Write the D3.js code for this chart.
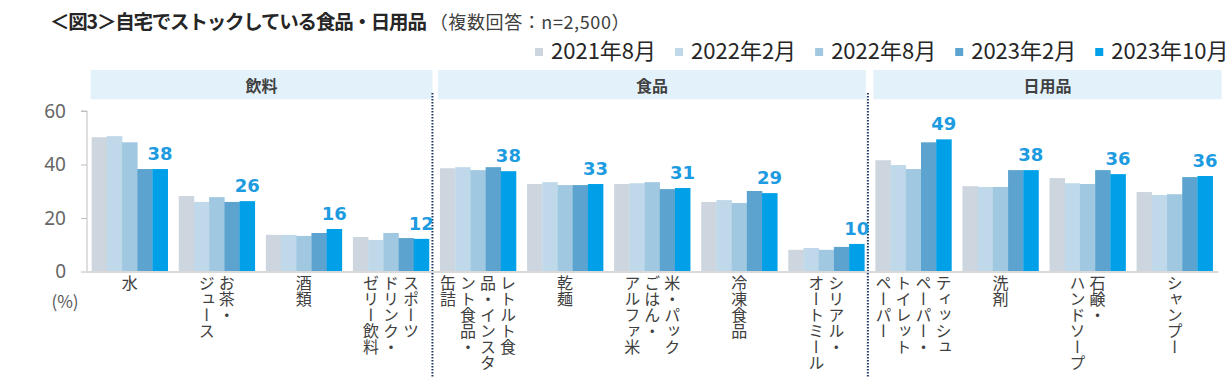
<!DOCTYPE html>
<html><head><meta charset="utf-8">
<script src="https://cdn.jsdelivr.net/npm/d3@7"></script>
<style>
html,body{margin:0;padding:0;background:#fff;}
svg{display:block;}
</style>
</head><body>
<svg id="chart" width="1229" height="377"></svg>
<script>
// ---- data ----
const categories = ["水","お茶・ジュース","酒類","スポーツドリンク・ゼリー飲料",
  "レトルト食品・インスタント食品・缶詰","乾麺","米・パックごはん・アルファ米","冷凍食品","シリアル・オートミール",
  "ティッシュペーパー・トイレットペーパー","洗剤","石鹸・ハンドソープ","シャンプー"];
const categoryLines = [["水"],["お茶・","ジュース"],["酒類"],["スポーツ","ドリンク・","ゼリー飲料"],
  ["レトルト食","品・インスタ","ント食品・","缶詰"],["乾麺"],["米・パック","ごはん・","アルファ米"],["冷凍食品"],["シリアル・","オートミール"],
  ["ティッシュ","ペーパー・","トイレット","ペーパー"],["洗剤"],["石鹸・","ハンドソープ"],["シャンプー"]];
const groupNames = ["飲料","食品","日用品"];
const groupSizes = [4,5,4];
const seriesNames = ["2021年8月","2022年2月","2022年8月","2023年2月","2023年10月"];
const v2021_08 = [50.2,28.2,13.7,12.9,38.6,32.7,32.7,26.0,8.1,41.6,31.9,34.9,29.7];
const v2022_02 = [50.6,26.0,13.7,11.8,39.0,33.4,33.0,26.7,8.8,39.8,31.6,33.0,28.6];
const v2022_08 = [48.3,27.8,13.3,14.4,37.9,32.3,33.4,25.6,8.1,38.3,31.6,32.7,28.9];
const v2023_02 = [38.3,26.0,14.4,12.5,39.0,32.3,30.8,30.1,9.2,48.3,37.9,37.9,35.3];
const v2023_10 = [38.3,26.3,15.9,12.2,37.5,32.7,31.2,29.3,10.3,49.4,37.9,36.4,35.7];
const latestLabels = [38,26,16,12,38,33,31,29,10,49,38,36,36];
const yTicks = [0,20,40,60];
const seriesValues = [v2021_08,v2022_02,v2022_08,v2023_02,v2023_10];
const colors = ["#cdd5de","#bfd9ea","#a0c9e1","#5ca4cf","#00a0e8"];

// ---- layout ----
const svg = d3.select("#chart");
const jp = "'Noto Sans CJK JP','Noto Sans',sans-serif";

const x = d3.scaleBand().domain(categories).range([86, 1218.3]).paddingInner(0.127).paddingOuter(0.065);
const xs = d3.scaleBand().domain(seriesNames).range([0, x.bandwidth()]);
const y = d3.scaleLinear().domain([0,60]).range([271.5, 111]);

// title
const title = svg.append("text").attr("x",50).attr("y",29).attr("font-family",jp).attr("fill","#262626");
title.append("tspan").attr("font-weight",700).attr("font-size",19.5).attr("letter-spacing",-1.2).text("＜図3＞自宅でストックしている食品・日用品");
title.append("tspan").attr("font-weight",400).attr("font-size",18).attr("letter-spacing",0.6).attr("fill","#404040").attr("dx",4).text("（複数回答：n=2,500）");

// legend
let lx = 535;
seriesNames.forEach((s,i)=>{
  svg.append("rect").attr("x",lx).attr("y",48).attr("width",8).attr("height",8).attr("fill",colors[i]);
  const t = svg.append("text").attr("x",lx+16).attr("y",58.5).attr("font-family",jp).attr("font-size",22)
     .attr("fill","#262626").text(s);
  lx += 16 + t.node().getComputedTextLength() + 19;
});

// group separators and header bands
const gap = x.step()-x.bandwidth();
let idx = 0;
const seps = [];
groupSizes.forEach((n,g)=>{ idx += n; if(g<groupSizes.length-1) seps.push(x(categories[idx]) - gap/2 - 2); });
const bandStarts = [x(categories[0])-1, seps[0]+5.5, seps[1]+5.5];
const bandEnds = [seps[0], seps[1]-2, x(categories[categories.length-1])+x.bandwidth()+9];
groupNames.forEach((gname,g)=>{
  svg.append("rect").attr("x",bandStarts[g]).attr("y",70).attr("width",bandEnds[g]-bandStarts[g]).attr("height",29.3).attr("fill","#e3f1fb");
  svg.append("text").attr("x",(bandStarts[g]+bandEnds[g])/2).attr("y",92).attr("text-anchor","middle")
    .attr("font-family",jp).attr("font-weight",700).attr("font-size",16).attr("fill","#404040").text(gname);
});
seps.forEach(sx=>{
  svg.append("line").attr("x1",sx).attr("x2",sx).attr("y1",93).attr("y2",377)
    .attr("stroke","#1f3864").attr("stroke-width",2).attr("stroke-dasharray","1.5,1.5");
});

// y axis
const yAxis = d3.axisLeft(y).tickValues(yTicks).tickSize(6).tickPadding(15);
const ya = svg.append("g").attr("transform","translate(87,0)").call(yAxis);
ya.select(".domain").attr("stroke","#bfbfbf").attr("d","M-6,"+y(60)+"H0V"+y(0));
ya.selectAll(".tick line").attr("stroke","#bfbfbf");
ya.selectAll(".tick text").attr("font-family","'Noto Sans',sans-serif").attr("font-size",19).attr("fill","#666");

// bars
const gBars = svg.append("g");
categories.forEach((c,ci)=>{
  seriesNames.forEach((s,si)=>{
    const v = seriesValues[si][ci];
    gBars.append("rect").attr("x",x(c)+xs(s)).attr("y",y(v)).attr("width",xs.bandwidth()+0.3)
      .attr("height",y(0)-y(v)).attr("fill",colors[si]);
  });
  const last = seriesNames[seriesNames.length-1];
  svg.append("text").attr("x",x(c)+xs(last)+xs.bandwidth()/2).attr("y",y(seriesValues[4][ci])-9)
    .attr("text-anchor","middle").attr("font-family","'DejaVu Sans',sans-serif").attr("font-weight",700)
    .attr("font-size",18).attr("fill","#1d9be0").text(latestLabels[ci]);
});

// baseline
svg.append("line").attr("x1",86).attr("x2",1218.3).attr("y1",y(0)+0.5).attr("y2",y(0)+0.5)
  .attr("stroke","#d9d9d9").attr("stroke-width",2);

// category labels (vertical, columns right to left)
categories.forEach((c,ci)=>{
  const lines = categoryLines[ci];
  const cx = x(c)+x.bandwidth()/2;
  const n = lines.length;
  lines.forEach((ln,li)=>{
    const colX = cx + (n-1)/2*20 - li*20;
    svg.append("text").attr("x",colX).attr("y",275)
      .style("writing-mode","vertical-rl").style("text-orientation","mixed")
      .attr("font-family",jp).attr("font-size",16).attr("fill","#404040").text(ln);
  });
});

// unit label
svg.append("text").attr("x",65).attr("y",308).attr("text-anchor","middle").attr("font-family",jp)
  .attr("font-size",17).attr("fill","#595959").text("(%)");
</script>
</body></html>
